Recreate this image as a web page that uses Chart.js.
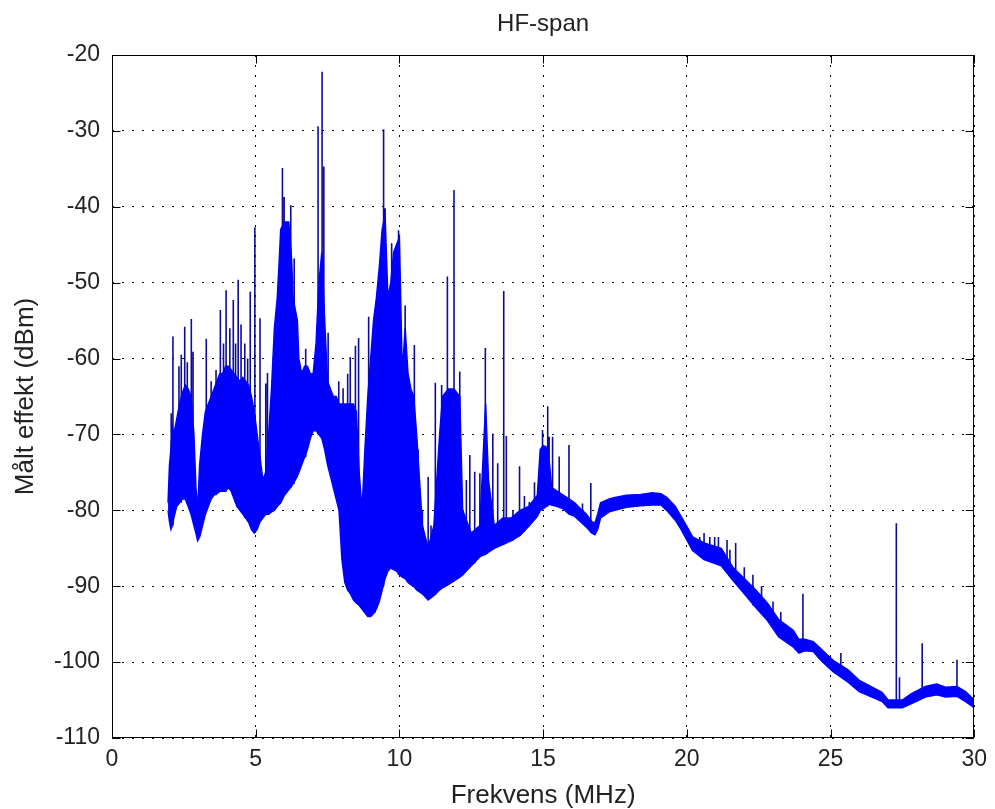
<!DOCTYPE html>
<html><head><meta charset="utf-8">
<script src="https://cdn.jsdelivr.net/npm/chart.js@4"></script>
<style>html,body{margin:0;padding:0;background:#fff}#wrap{width:995px;height:809px}</style>
</head><body><div id="wrap"><canvas id="c" width="995" height="809"></canvas></div>
<script>
const chartTitle = 'HF-span';
const xTitle = 'Frekvens (MHz)';
const yTitle = 'Målt effekt (dBm)';
const xTicks = [0, 5, 10, 15, 20, 25, 30];
const yTicks = [-110, -100, -90, -80, -70, -60, -50, -40, -30, -20];

// Dense measured band: frequency (MHz), lower and upper edge (dBm)
const bandFreq = [
  1.95, 2.00, 2.05, 2.10, 2.15, 2.25, 2.35, 2.45, 2.55, 2.65,
  2.75, 2.85, 2.92, 2.98, 3.05, 3.15, 3.25, 3.35, 3.45, 3.55,
  3.65, 3.75, 3.85, 3.95, 4.05, 4.15, 4.25, 4.35, 4.45, 4.55,
  4.65, 4.75, 4.85, 4.95, 5.05, 5.15, 5.25, 5.35, 5.45, 5.55,
  5.65, 5.75, 5.82, 5.87, 6.00, 6.15, 6.25, 6.30, 6.45, 6.50,
  6.60, 6.70, 6.80, 6.90, 7.00, 7.10, 7.20, 7.30, 7.40, 7.50,
  7.60, 7.70, 7.80, 7.90, 8.00, 8.10, 8.20, 8.30, 8.40, 8.50,
  8.60, 8.70, 8.80, 8.90, 9.00, 9.10, 9.20, 9.30, 9.40, 9.50,
  9.60, 9.70, 9.80, 9.90, 10.00, 10.10, 10.20, 10.30, 10.40, 10.50,
  10.60, 10.80, 11.00, 11.20, 11.40, 11.50, 11.70, 11.90, 12.10, 12.20,
  12.50, 12.80, 13.00, 13.10, 13.30, 13.60, 13.90, 14.20, 14.50, 14.80,
  14.90, 15.00, 15.10, 15.20, 15.30, 15.50, 15.70, 15.90, 16.10, 16.30,
  16.50, 16.70, 16.80, 16.90, 17.00, 17.30, 17.50, 17.90, 18.40, 18.80,
  19.10, 19.30, 19.60, 19.80, 20.00, 20.20, 20.60, 21.20, 21.60, 22.00,
  22.40, 22.80, 23.20, 23.70, 23.90, 24.10, 24.40, 24.60, 24.90, 25.10,
  25.60, 26.00, 26.50, 26.80, 27.00, 27.50, 27.80, 28.30, 28.70, 29.00,
  29.40, 29.70, 30.00
];
const bandLow = [
  -80.0, -81.5, -82.5, -82.0, -81.0, -79.5, -79.0, -78.5, -78.5, -79.5,
  -80.5, -82.0, -83.0, -84.0, -83.5, -82.0, -80.5, -79.5, -78.5, -78.0,
  -77.8, -77.5, -77.5, -77.5, -77.0, -77.5, -78.5, -79.5, -80.0, -80.5,
  -81.0, -81.5, -82.5, -83.0, -82.5, -81.5, -81.0, -80.5, -80.5, -80.2,
  -80.0, -79.5, -79.2, -79.0, -78.0, -77.3, -76.8, -76.5, -75.5, -75.0,
  -74.0, -73.0, -72.0, -70.5, -69.5, -69.5, -70.0, -70.5, -72.0, -74.0,
  -75.5, -77.0, -78.5, -80.0, -86.5, -89.5, -90.5, -91.0, -91.8, -92.2,
  -92.5, -93.0, -93.5, -94.0, -94.0, -93.6, -93.0, -92.0, -90.5, -89.0,
  -88.0, -87.6, -87.8, -88.0, -88.5, -88.8, -89.0, -89.5, -89.8, -90.0,
  -90.5, -91.0, -91.8, -91.2, -90.5, -90.2, -89.8, -89.3, -88.8, -88.5,
  -87.3, -86.1, -85.8, -85.5, -85.0, -84.5, -84.0, -83.3, -82.1, -80.8,
  -80.0, -79.8, -79.5, -79.2, -79.3, -79.5, -79.8, -80.5, -80.8, -81.5,
  -82.2, -83.0, -83.2, -82.5, -81.0, -80.2, -80.0, -79.6, -79.4, -79.3,
  -79.3, -80.0, -81.3, -82.5, -83.9, -85.3, -86.5, -87.3, -89.2, -91.0,
  -92.8, -94.5, -96.7, -98.0, -98.8, -98.5, -98.6, -99.5, -100.6, -101.3,
  -102.6, -103.9, -104.7, -105.2, -106.0, -106.0, -105.5, -104.6, -104.3, -104.6,
  -104.5, -105.2, -106.0
];
const bandHigh = [
  -79.0, -74.0, -72.0, -69.0, -70.0, -68.0, -66.0, -64.5, -63.5, -64.0,
  -65.0, -70.0, -77.0, -80.0, -74.0, -70.0, -67.0, -66.0, -65.0, -64.0,
  -63.0, -62.0, -62.0, -61.0, -61.0, -61.5, -62.0, -62.5, -63.0, -62.5,
  -63.0, -63.5, -65.0, -67.0, -70.0, -73.0, -76.0, -75.0, -70.0, -64.0,
  -56.0, -52.0, -47.0, -43.0, -42.0, -42.0, -47.0, -52.0, -55.0, -60.0,
  -62.0, -61.0, -61.0, -62.0, -62.0, -58.0, -50.0, -46.0, -55.0, -63.0,
  -64.0, -65.0, -65.0, -66.0, -66.0, -66.0, -66.0, -66.0, -66.0, -67.0,
  -75.0, -80.0, -72.0, -65.0, -60.0, -55.0, -52.0, -48.0, -43.0, -41.0,
  -52.0, -50.0, -46.0, -45.0, -44.0, -62.0, -56.0, -62.0, -64.0, -65.0,
  -70.0, -82.0, -85.0, -82.0, -70.0, -65.0, -64.0, -64.0, -65.0, -80.0,
  -83.0, -82.0, -66.0, -76.0, -82.0, -81.0, -81.0, -80.0, -79.5, -78.0,
  -72.0, -71.5, -71.6, -73.0, -77.0, -77.5, -78.0, -78.5, -79.0, -79.8,
  -80.5, -81.5, -81.7, -80.5, -79.0, -78.5, -78.3, -78.0, -77.9, -77.7,
  -77.8, -78.3, -79.5, -80.8, -82.1, -83.5, -84.3, -85.0, -87.5, -89.0,
  -90.5, -92.2, -94.4, -95.8, -97.0, -97.0, -97.3, -98.0, -99.1, -99.8,
  -101.0, -102.4, -103.4, -104.0, -105.0, -105.0, -104.2, -103.2, -102.9, -103.3,
  -103.2, -103.9, -105.0
];

// Narrow spectral peaks: frequency (MHz), peak level and foot level (dBm)
const spikeFreq = [
  2.06, 2.12, 2.33, 2.41, 2.53, 2.62, 2.76, 2.82, 3.28, 3.45,
  3.62, 3.77, 3.88, 3.97, 4.10, 4.22, 4.30, 4.39, 4.49, 4.62,
  4.72, 4.81, 4.97, 5.15, 5.35, 5.41, 5.93, 5.99, 6.22, 6.34,
  6.74, 7.17, 7.31, 7.37, 7.52, 7.89, 8.04, 8.20, 8.29, 8.47,
  8.58, 8.93, 9.15, 9.45, 9.50, 9.73, 9.97, 10.20, 10.52, 10.65,
  10.80, 11.00, 11.10, 11.25, 11.47, 11.67, 11.90, 12.10, 12.33, 12.45,
  12.62, 12.80, 12.99, 13.25, 13.42, 13.63, 13.72, 13.95, 14.18, 14.35,
  14.52, 14.70, 14.98, 15.16, 15.21, 15.33, 15.56, 15.90, 16.37, 16.66,
  20.45, 20.60, 20.80, 20.97, 21.10, 21.40, 21.50, 21.70, 22.00, 22.30,
  22.60, 23.00, 23.27, 24.04, 25.36, 27.29, 27.40, 28.19, 29.40
];
const spikeTop = [
  -67.2, -57.1, -61.0, -59.5, -55.8, -60.5, -54.8, -59.1, -57.4, -63.0,
  -61.5, -53.6, -58.0, -51.0, -56.0, -52.3, -58.0, -49.6, -55.5, -58.0,
  -60.0, -51.2, -42.7, -54.7, -63.3, -61.9, -34.9, -38.7, -39.8, -46.8,
  -58.7, -29.4, -22.2, -34.7, -56.6, -63.0, -63.9, -62.0, -59.8, -58.3,
  -57.3, -54.5, -64.4, -29.8, -40.2, -44.8, -43.1, -53.0, -58.2, -72.0,
  -80.0, -75.6, -82.0, -63.2, -63.5, -49.2, -37.8, -61.7, -76.0, -72.7,
  -74.9, -75.1, -58.6, -69.9, -73.8, -51.1, -70.2, -80.0, -74.2, -78.1,
  -78.9, -76.3, -69.4, -66.3, -70.3, -70.3, -72.9, -71.4, -79.1, -76.4,
  -83.5, -83.0, -83.5, -83.5, -83.5, -83.9, -85.2, -84.3, -87.5, -88.5,
  -90.0, -92.0, -93.4, -91.0, -98.8, -81.7, -102.0, -97.5, -99.7
];
const spikeBase = [
  -82.0, -82.0, -79.0, -79.0, -78.5, -79.0, -80.5, -81.0, -80.0, -78.5,
  -78.0, -77.5, -77.5, -77.5, -77.0, -78.0, -79.0, -79.5, -80.0, -81.0,
  -81.5, -82.0, -83.0, -81.5, -80.5, -80.5, -78.5, -78.0, -77.0, -76.5,
  -73.0, -70.0, -70.5, -71.0, -74.0, -80.0, -87.0, -90.5, -91.0, -92.0,
  -92.5, -94.0, -93.5, -90.0, -89.0, -87.6, -88.5, -89.0, -90.0, -90.5,
  -91.0, -91.8, -91.5, -91.2, -90.2, -89.8, -89.3, -88.8, -88.0, -87.5,
  -87.0, -86.1, -85.8, -85.0, -84.8, -84.5, -84.3, -84.0, -83.3, -82.8,
  -82.1, -81.2, -79.8, -79.5, -79.2, -79.3, -79.5, -80.5, -81.7, -83.0,
  -86.0, -86.5, -86.8, -87.0, -87.2, -88.0, -88.6, -89.5, -91.0, -92.5,
  -93.5, -95.5, -96.8, -98.6, -102.0, -106.0, -106.0, -104.8, -104.5
];

const FONT = '"Liberation Sans", Arial, sans-serif';
const TEXT = '#222222';

const lowData = bandFreq.map((f, i) => ({x: f, y: bandLow[i]}));
const highData = bandFreq.map((f, i) => ({x: f, y: bandHigh[i]}));
const spikeData = [];
spikeFreq.forEach((f, i) => {
  spikeData.push({x: f, y: spikeBase[i]});
  spikeData.push({x: f, y: spikeTop[i]});
  spikeData.push({x: f, y: null});
});

const framePlugin = {
  id: 'frame',
  afterDatasetsDraw(chart) {
    const {ctx, chartArea: a, scales: {x, y}} = chart;
    ctx.save();
    ctx.strokeStyle = '#000';
    ctx.lineWidth = 1;
    const l = Math.round(a.left) + 0.5, t = Math.round(a.top) + 0.5;
    const r = Math.round(a.right) - 0.5, b = Math.round(a.bottom) - 0.5;
    ctx.strokeRect(l, t, r - l, b - t);
    const L = 8;
    ctx.beginPath();
    xTicks.forEach(v => {
      const px = Math.round(x.getPixelForValue(v)) + 0.5;
      ctx.moveTo(px, b); ctx.lineTo(px, b - L);
      ctx.moveTo(px, t); ctx.lineTo(px, t + L);
    });
    yTicks.forEach(v => {
      const py = Math.round(y.getPixelForValue(v)) + 0.5;
      ctx.moveTo(l, py); ctx.lineTo(l + L, py);
      ctx.moveTo(r, py); ctx.lineTo(r - L, py);
    });
    ctx.stroke();
    // chart title centred over the plot area
    ctx.fillStyle = TEXT;
    ctx.font = '24px ' + FONT;
    ctx.textAlign = 'center';
    ctx.textBaseline = 'middle';
    ctx.fillText(chartTitle, (a.left + a.right) / 2, 24);
    ctx.restore();
  }
};

new Chart(document.getElementById('c'), {
  type: 'line',
  data: {
    datasets: [
      {data: lowData, borderColor: '#0000ff', borderWidth: 1.5, pointRadius: 0, fill: false, tension: 0},
      {data: highData, borderColor: '#0000ff', borderWidth: 1.5, pointRadius: 0, fill: '-1', backgroundColor: '#0000ff', tension: 0},
      {data: spikeData, borderColor: '#0c0c96', borderWidth: 1.6, pointRadius: 0, fill: false, spanGaps: false, tension: 0}
    ]
  },
  options: {
    responsive: false,
    animation: false,
    devicePixelRatio: 1,
    layout: {padding: {left: 0, right: 16, top: 55, bottom: 0}},
    plugins: {
      legend: {display: false},
      tooltip: {enabled: false},
      title: {display: false}
    },
    scales: {
      x: {
        type: 'linear', min: 0, max: 30,
        afterFit(s) { s.height = 71; },
        afterBuildTicks(s) { s.ticks = xTicks.map(v => ({value: v})); },
        ticks: {autoSkip: false, maxRotation: 0, padding: 8, color: TEXT, font: {family: FONT, size: 23}},
        grid: {color: '#000', lineWidth: 1, drawTicks: false},
        border: {display: false, dash: [2, 8]},
        title: {display: true, text: xTitle, color: TEXT, font: {family: FONT, size: 26, lineHeight: 1}, padding: {top: 0, bottom: 0}}
      },
      y: {
        type: 'linear', min: -110, max: -20,
        afterFit(s) { s.width = 112; },
        afterBuildTicks(s) { s.ticks = yTicks.map(v => ({value: v})); },
        ticks: {autoSkip: false, padding: 12, color: TEXT, font: {family: FONT, size: 23}},
        grid: {color: '#000', lineWidth: 1, drawTicks: false},
        border: {display: false, dash: [2, 8]},
        title: {display: true, text: yTitle, color: TEXT, font: {family: FONT, size: 26, lineHeight: 1}, padding: {top: 13, bottom: 0}}
      }
    }
  },
  plugins: [framePlugin]
});
</script>
</body></html>
